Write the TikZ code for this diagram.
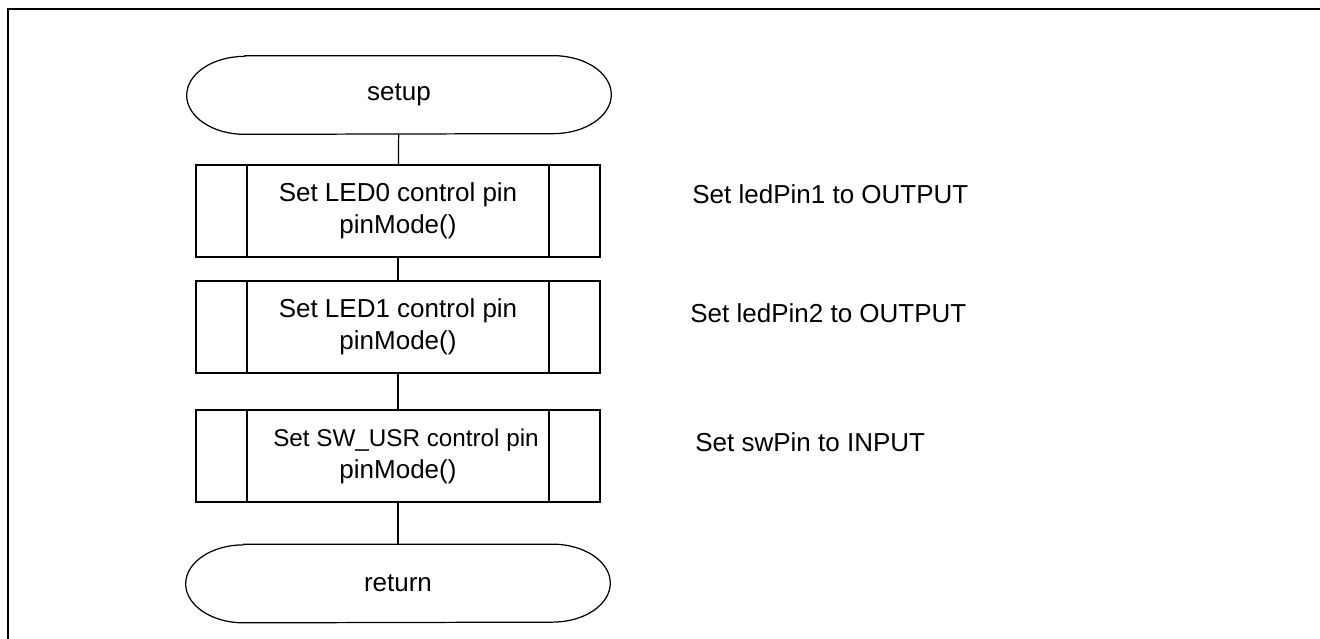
\documentclass[tikz,border=0pt]{standalone}
\usepackage{fontspec}
\setsansfont{Liberation Sans}
\usepackage{tikz}
\usetikzlibrary{positioning,calc}

% terminal outline with elliptic ends (setup / return)
\newcommand{\drawterm}[1]{%
  \draw[termline] ([xshift=1.16cm]#1.north west) -- ([xshift=-1.16cm]#1.north east)
    arc[start angle=90,end angle=-90,x radius=1.16cm,y radius=0.78cm]
    -- ([xshift=1.16cm]#1.south west)
    arc[start angle=270,end angle=90,x radius=1.16cm,y radius=0.78cm] -- cycle;}

\begin{document}
\begin{tikzpicture}[
    x=0.02cm, y=-0.02cm,
    every node/.style={font=\sffamily\fontsize{14.8}{18.2}\selectfont},
    % Stili per le forme
    termline/.style={line width=0.7pt},
    terminal/.style={rectangle, draw=none, inner sep=0pt, minimum width=8.48cm, minimum height=1.56cm},
    process/.style={rectangle, draw, line width=0.7pt, align=center, minimum width=8.08cm, minimum height=1.84cm,
        path picture={
            \draw[line width=0.7pt] ([xshift=1.02cm]path picture bounding box.north west) -- ([xshift=1.02cm]path picture bounding box.south west);
            \draw[line width=0.7pt] ([xshift=-1.02cm]path picture bounding box.north east) -- ([xshift=-1.02cm]path picture bounding box.south east);
        }},
    % Stili per le connessioni
    flow/.style={draw, line width=0.7pt},
    % Stili per il testo
    notetext/.style={anchor=base west, inner sep=0pt}
]
\path[use as bounding box, clip] (0,0) rectangle (1320,639);

% === CORNICE ===
\draw[line width=1.2pt] (8,9) rectangle (1360,680);

% === FLUSSO ===
\node[terminal] (start) at (399,95) {setup};
\drawterm{start}
\node[process] (set0) at (398,211) {Set LED0 control pin\\pinMode()};
\node[process] (set1) at (398,327) {Set LED1 control pin\\pinMode()};
\node[process] (setsw) at (398,456) {\hspace*{0.32cm}{\fontsize{13.8}{18.2}\selectfont Set SW\_USR control pin}\\pinMode()};
\node[terminal] (ret) at (398,583.5) {return};
\drawterm{ret}

% === CONNESSIONI ===
\draw[flow] (start) -- (set0);
\draw[flow] (set0) -- (set1);
\draw[flow] (set1) -- (setsw);
\draw[flow] (setsw) -- (ret);

% === NOTE ===
\node[notetext] (note0) at (692,203) {Set ledPin1 to OUTPUT};
\node[notetext] (note1) at (690,322) {Set ledPin2 to OUTPUT};
\node[notetext] (note2) at (695,451) {Set swPin to INPUT};

\end{tikzpicture}
\end{document}
